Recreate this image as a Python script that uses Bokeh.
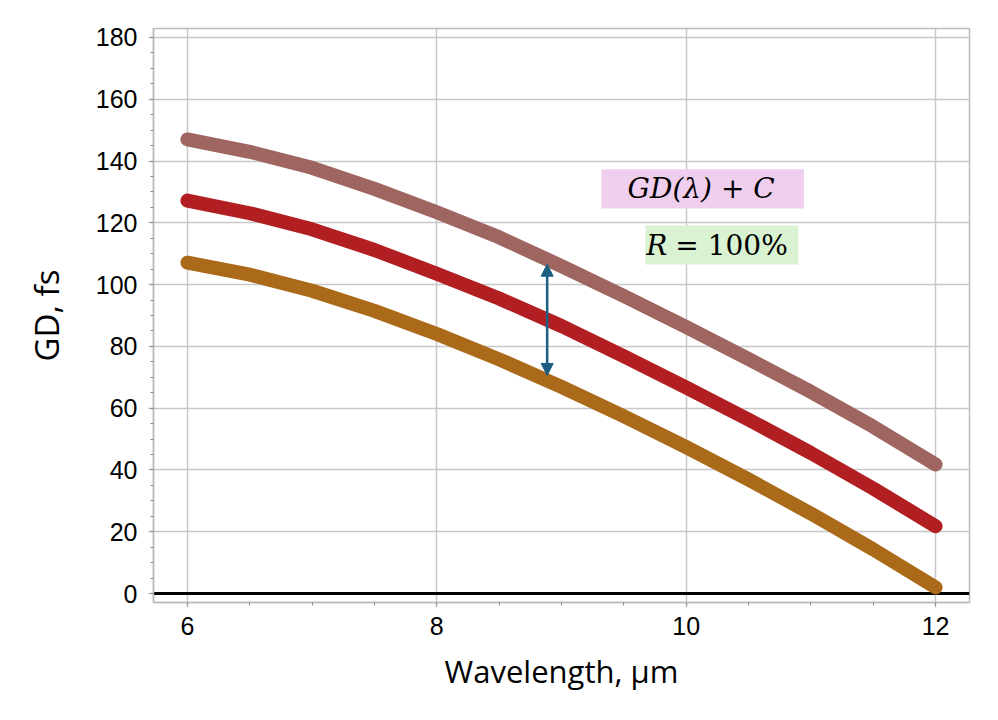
from bokeh.plotting import figure
from bokeh.models import (Range1d, Span, BoxAnnotation, Label, Arrow, NormalHead,
                          SingleIntervalTicker)
from bokeh.embed import file_html
from bokeh.resources import INLINE

# ---- data ----
wavelength = [6.0, 6.5, 7.0, 7.5, 8.0, 8.5, 9.0, 9.5, 10.0, 10.5, 11.0, 11.5, 12.0]
gd_r100_c40 = [147.0, 143.0, 137.8, 131.0, 123.4, 115.3, 106.0, 96.3, 86.3, 75.9, 65.3, 54.0, 41.8]
gd_r100_c20 = [127.2, 123.1, 117.9, 111.2, 103.5, 95.5, 86.6, 76.8, 66.7, 56.3, 45.5, 34.0, 21.8]
gd_r100_c0 = [107.1, 103.2, 98.0, 91.5, 84.0, 75.8, 66.9, 57.4, 47.4, 36.9, 25.9, 14.3, 2.0]
series_colors = ["#9F6560", "#B11F23", "#AB6A1A"]
arrow_x = 8.885
arrow_y = [70.6, 106.6]

x_ticks_interval = 2
y_ticks_interval = 20

p = figure(width=998, height=720, output_backend="svg", toolbar_location=None,
           x_range=Range1d(5.728, 12.272), y_range=Range1d(-2.9, 182.9),
           min_border_left=153, min_border_right=29, min_border_top=28, min_border_bottom=118)
p.background_fill_color = "white"
p.border_fill_color = "white"
p.outline_line_color = "#BBBBBB"
p.outline_line_width = 1.5

p.xaxis.ticker = SingleIntervalTicker(interval=x_ticks_interval, num_minor_ticks=4)
p.yaxis.ticker = SingleIntervalTicker(interval=y_ticks_interval, num_minor_ticks=4)

for ax in (p.xaxis[0], p.yaxis[0]):
    ax.axis_line_color = "#BBBBBB"
    ax.axis_line_width = 1.5
    ax.major_tick_line_color = "#BBBBBB"
    ax.major_tick_line_width = 1.5
    ax.major_tick_out = 5
    ax.major_tick_in = 0
    ax.minor_tick_line_color = "#888888"
    ax.minor_tick_out = 3
    ax.minor_tick_in = 0
    ax.major_label_text_font = "Liberation Sans"
    ax.major_label_text_font_size = "25px"
    ax.major_label_text_color = "black"
    ax.axis_label_text_font = "Open Sans"
    ax.axis_label_text_font_style = "normal"
    ax.axis_label_text_color = "black"

p.xaxis.axis_label = "Wavelength, µm"
p.yaxis.axis_label = "GD, fs"
p.xaxis.axis_label_text_font_size = "31px"
p.yaxis.axis_label_text_font_size = "33px"
p.xaxis.major_label_standoff = 9
p.yaxis.major_label_standoff = 11
p.xaxis.axis_label_standoff = 12
p.yaxis.axis_label_standoff = 24

p.grid.grid_line_color = "#C8C8C8"
p.grid.grid_line_width = 1.5

zero = Span(location=0, dimension="width", line_color="black", line_width=3, level="underlay")
p.add_layout(zero)

for ys, c in zip([gd_r100_c40, gd_r100_c20, gd_r100_c0], series_colors):
    p.line(wavelength, ys, line_color=c, line_width=14, line_cap="round", line_join="round")

p.add_layout(Arrow(x_start=arrow_x, y_start=arrow_y[0], x_end=arrow_x, y_end=arrow_y[1],
                   line_color="#1B5E80", line_width=2.5,
                   start=NormalHead(size=12, fill_color="#1B5E80", line_color="#1B5E80"),
                   end=NormalHead(size=12, fill_color="#1B5E80", line_color="#1B5E80")))

# annotation boxes
p.add_layout(BoxAnnotation(left=9.32, right=10.944, bottom=124.6, top=137.3,
                           fill_color="#F0CFEE", fill_alpha=1.0, line_alpha=0))
p.add_layout(BoxAnnotation(left=9.673, right=10.90, bottom=106.5, top=119.1,
                           fill_color="#D8F2D2", fill_alpha=1.0, line_alpha=0))

p.add_layout(Label(x=10.12, y=131.0, text="GD(λ) + C", text_align="center", text_baseline="middle",
                   text_font="DejaVu Serif", text_font_style="italic", text_font_size="28px",
                   text_color="black"))
p.add_layout(Label(x=9.849, y=112.7, text="R", text_align="right", text_baseline="middle",
                   text_font="DejaVu Serif", text_font_style="italic", text_font_size="28px",
                   text_color="black"))
p.add_layout(Label(x=9.913, y=112.7, text="= 100%", text_align="left", text_baseline="middle",
                   text_font="DejaVu Serif", text_font_style="normal", text_font_size="28px",
                   text_color="black"))

open("out.html", "w").write(file_html(p, INLINE))
